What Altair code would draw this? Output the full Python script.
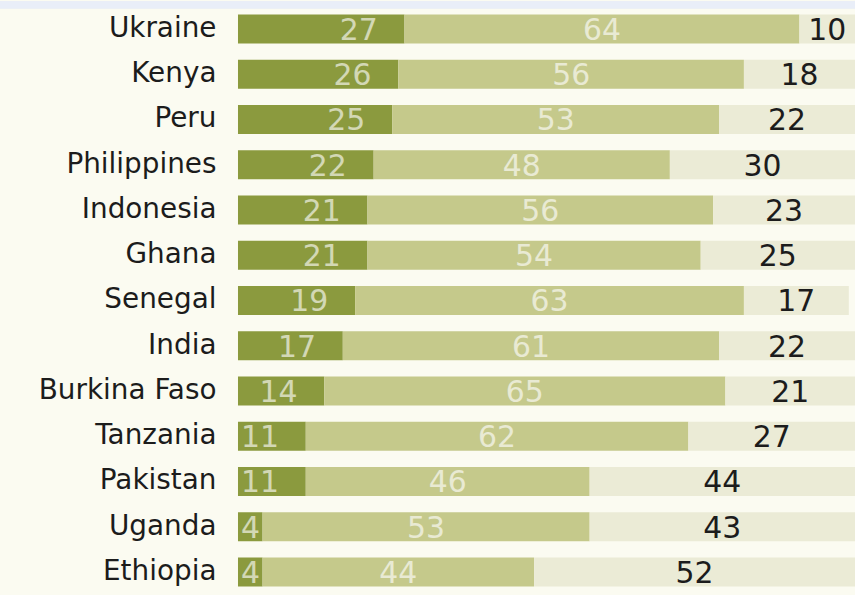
import altair as alt
import pandas as pd

countries = ["Ukraine", "Kenya", "Peru", "Philippines", "Indonesia", "Ghana",
             "Senegal", "India", "Burkina Faso", "Tanzania", "Pakistan",
             "Uganda", "Ethiopia"]
seg1 = [27, 26, 25, 22, 21, 21, 19, 17, 14, 11, 11, 4, 4]
seg2 = [64, 56, 53, 48, 56, 54, 63, 61, 65, 62, 46, 53, 44]
seg3 = [10, 18, 22, 30, 23, 25, 17, 22, 21, 27, 44, 43, 52]

segments = ["s1", "s2", "s3"]
seg_colors = ["#8b9a3e", "#c5c98b", "#ebebd6"]

rows = []
for i, c in enumerate(countries):
    for k, vals in enumerate([seg1, seg2, seg3]):
        rows.append({"country": c, "seg": segments[k], "ord": k, "value": vals[i]})
long_df = pd.DataFrame(rows)
wide_df = pd.DataFrame({"country": countries, "v1": seg1, "v2": seg2, "v3": seg3})

FONT = "DejaVu Sans"
xs = alt.Scale(domain=[0, 100], nice=False, zero=True)
y_enc = alt.Y(
    "country:N", sort=countries, title=None,
    scale=alt.Scale(paddingInner=0.36, paddingOuter=0.18),
    axis=alt.Axis(ticks=False, domain=False, labelFont=FONT, labelFontSize=28,
                  labelColor="#1c1c1c", labelPadding=22),
)

band = alt.Chart(wide_df).mark_rect(color="#e9eef8").encode(
    x=alt.value(-239), x2=alt.value(620), y=alt.value(-5), y2=alt.value(2)
)

bars = alt.Chart(long_df).mark_bar(clip=True).encode(
    x=alt.X("value:Q", stack="zero", scale=xs, axis=None),
    y=y_enc,
    color=alt.Color("seg:N", scale=alt.Scale(domain=segments, range=seg_colors), legend=None),
    order=alt.Order("ord:Q"),
)

t1 = alt.Chart(wide_df).transform_calculate(
    px="max(datum.v1 - 10.5, 0.5)"
).mark_text(align="left", baseline="middle", font=FONT, fontSize=30,
            color="#ffffff", opacity=0.62, dy=2).encode(
    x=alt.X("px:Q", scale=xs, axis=None), y=y_enc, text="v1:Q"
)

t2 = alt.Chart(wide_df).transform_calculate(
    px="datum.v1 + datum.v2 / 2"
).mark_text(align="center", baseline="middle", font=FONT, fontSize=30,
            color="#ffffff", opacity=0.62, dy=2).encode(
    x=alt.X("px:Q", scale=xs, axis=None), y=y_enc, text="v2:Q"
)

t3 = alt.Chart(wide_df).transform_calculate(
    px="(datum.v1 + datum.v2 + min(100, datum.v1 + datum.v2 + datum.v3)) / 2"
).mark_text(align="center", baseline="middle", font=FONT, fontSize=30,
            color="#1c1c1c", dy=2).encode(
    x=alt.X("px:Q", scale=xs, axis=None), y=y_enc, text="v3:Q"
)

chart = alt.layer(band, bars, t1, t2, t3).properties(
    width=620, height=591,
    autosize=alt.AutoSizeParams(type="none"),
    padding={"left": 239, "top": 5, "right": 0, "bottom": 0},
    background="#fbfbf1",
).configure_view(stroke=None)

chart.save("out.html", embed_options={"renderer": "svg", "actions": False})
